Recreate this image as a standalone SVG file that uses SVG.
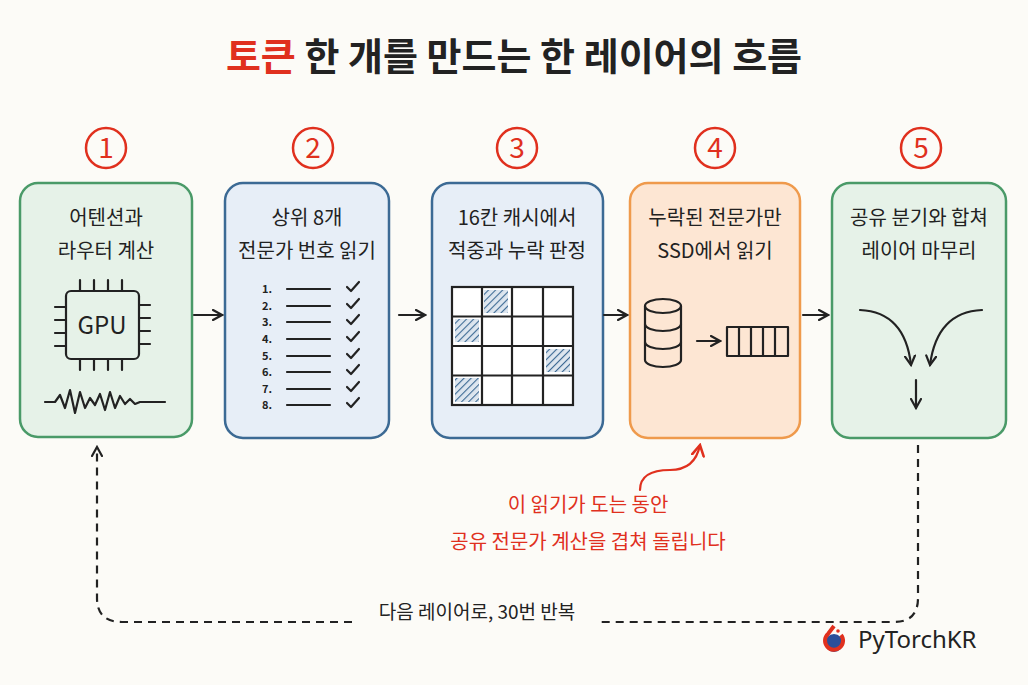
<svg xmlns="http://www.w3.org/2000/svg" width="1028" height="685" viewBox="0 0 1028 685">
<defs>
<style>
.t{font-family:"Noto Sans CJK KR","Noto Sans",sans-serif;fill:#222;text-anchor:middle}
.box{stroke-width:2.5}
.ln{stroke:#222;stroke-width:2.2;fill:none;stroke-linecap:round;stroke-linejoin:round}
.num{fill:none;stroke:#e0301e;stroke-width:2.5}
.nt{font-family:"Noto Sans CJK KR","Noto Sans",sans-serif;fill:#e0301e;font-size:28px;text-anchor:middle}
</style>
<marker id="ah" viewBox="0 0 12 12" refX="10" refY="6" markerWidth="12" markerHeight="12" markerUnits="userSpaceOnUse" orient="auto"><path d="M1,1 L10,6 L1,11" fill="none" stroke="#222" stroke-width="2.2" stroke-linecap="round"/></marker>
<marker id="ahr" viewBox="0 0 12 12" refX="10" refY="6" markerWidth="14" markerHeight="14" markerUnits="userSpaceOnUse" orient="auto"><path d="M1,1 L10,6 L1,11" fill="none" stroke="#e0301e" stroke-width="2.2" stroke-linecap="round"/></marker>
<pattern id="hatch" width="5" height="5" patternUnits="userSpaceOnUse" patternTransform="rotate(45)"><rect width="5" height="5" fill="#dde6ef"/><line x1="0" y1="0" x2="0" y2="5" stroke="#3c6a94" stroke-width="2.2"/></pattern>
</defs>
<rect width="1028" height="685" fill="#fcfbf7"/>
<text x="514" y="70" class="t" font-size="38" font-weight="bold"><tspan fill="#e0301e">토큰</tspan> 한 개를 만드는 한 레이어의 흐름</text>

<g id="n1">
<circle cx="106" cy="148" r="20" class="num"/><text x="106" y="158" class="nt">1</text>
<rect x="20" y="183" width="172" height="254" rx="18" fill="#e6f2e8" stroke="#4a9a68" class="box"/>
<text x="106" y="225" class="t" font-size="20">어텐션과</text>
<text x="106" y="258" class="t" font-size="20">라우터 계산</text>
<rect x="66" y="291" width="73" height="68" rx="5" fill="none" class="ln"/>
<path class="ln" d="M80,280v11M94,280v11M108,280v11M122,280v11M80,359v11M94,359v11M108,359v11M122,359v11M55,307h11M55,320h11M55,333h11M55,346h11M139,305h11M139,318h11M139,331h11M139,344h11"/>
<text x="102" y="334" class="t" font-size="24">GPU</text>
<path class="ln" d="M45,402 L55,402 L60,395 L65,408 L70,390 L75,413 L80,392 L85,408 L90,398 L95,405 L100,394 L105,410 L110,392 L115,408 L120,396 L125,404 L130,399 L135,404 L140,402 L165,402"/>
</g>

<g id="n2">
<circle cx="313" cy="148" r="20" class="num"/><text x="313" y="158" class="nt">2</text>
<rect x="225" y="183" width="164" height="255" rx="18" fill="#e7eef7" stroke="#3c6a94" class="box"/>
<text x="307" y="225" class="t" font-size="20">상위 8개</text>
<text x="307" y="258" class="t" font-size="20">전문가 번호 읽기</text>
<g font-family="Noto Sans CJK KR,sans-serif" font-size="11" fill="#222" font-weight="bold">
<text x="262" y="293">1.</text><text x="262" y="310">2.</text><text x="262" y="326">3.</text><text x="262" y="343">4.</text><text x="262" y="360">5.</text><text x="262" y="376">6.</text><text x="262" y="393">7.</text><text x="262" y="409">8.</text>
</g>
<path class="ln" d="M287,289h43M287,306h43M287,322h43M287,339h43M287,356h43M287,372h43M287,389h43M287,405h43"/>
<path class="ln" d="M347,287l4,4l8,-9M347,304l4,4l8,-9M347,320l4,4l8,-9M347,337l4,4l8,-9M347,354l4,4l8,-9M347,370l4,4l8,-9M347,387l4,4l8,-9M347,403l4,4l8,-9"/>
</g>

<g id="n3">
<circle cx="517" cy="148" r="20" class="num"/><text x="517" y="158" class="nt">3</text>
<rect x="432" y="183" width="171" height="255" rx="18" fill="#e7eef7" stroke="#3c6a94" class="box"/>
<text x="517" y="225" class="t" font-size="20">16칸 캐시에서</text>
<text x="517" y="258" class="t" font-size="20">적중과 누락 판정</text>
<rect x="452" y="287" width="121" height="118" fill="#fff" stroke="#222" stroke-width="2.2"/>
<rect x="484" y="290" width="24" height="23" fill="url(#hatch)"/>
<rect x="455" y="319" width="24" height="23" fill="url(#hatch)"/>
<rect x="546" y="349" width="24" height="23" fill="url(#hatch)"/>
<rect x="455" y="378" width="24" height="24" fill="url(#hatch)"/>
<path stroke="#222" stroke-width="2.2" d="M482,287v118M512,287v118M543,287v118M452,316.5h121M452,346h121M452,375.5h121"/>
</g>

<g id="n4">
<circle cx="715" cy="148" r="20" class="num"/><text x="715" y="158" class="nt">4</text>
<rect x="630" y="183" width="170" height="255" rx="18" fill="#fde6d3" stroke="#ef9a4c" class="box"/>
<text x="715" y="225" class="t" font-size="20">누락된 전문가만</text>
<text x="715" y="258" class="t" font-size="20">SSD에서 읽기</text>
<path class="ln" d="M645,306 v54 a18,7 0 0 0 36,0 v-54"/>
<ellipse cx="663" cy="306" rx="18" ry="7" class="ln"/>
<path class="ln" d="M645,324 a18,7 0 0 0 36,0 M645,342 a18,7 0 0 0 36,0"/>
<line x1="697" y1="341" x2="720" y2="341" class="ln" marker-end="url(#ah)"/>
<rect x="727" y="327" width="61" height="29" class="ln"/>
<path class="ln" d="M739,327v29M751,327v29M763,327v29M775,327v29"/>
</g>

<g id="n5">
<circle cx="921" cy="148" r="20" class="num"/><text x="921" y="158" class="nt">5</text>
<rect x="832" y="183" width="174" height="255" rx="18" fill="#e6f2e8" stroke="#4a9a68" class="box"/>
<text x="919" y="225" class="t" font-size="20">공유 분기와 합쳐</text>
<text x="919" y="258" class="t" font-size="20">레이어 마무리</text>
<path class="ln" d="M860,310 Q905,312 911,365" marker-end="url(#ah)"/>
<path class="ln" d="M982,310 Q937,312 930,365" marker-end="url(#ah)"/>
<line x1="916" y1="380" x2="916" y2="408" class="ln" marker-end="url(#ah)"/>
</g>

<g id="connectors">
<line x1="194" y1="315" x2="222" y2="315" class="ln" marker-end="url(#ah)"/>
<line x1="399" y1="315" x2="425" y2="315" class="ln" marker-end="url(#ah)"/>
<line x1="604" y1="315" x2="627" y2="315" class="ln" marker-end="url(#ah)"/>
<line x1="803" y1="315" x2="828" y2="315" class="ln" marker-end="url(#ah)"/>
<path d="M640,490 Q640,470 670,470 Q695,470 700,445" fill="none" stroke="#e0301e" stroke-width="2.2" stroke-linecap="round" marker-end="url(#ahr)"/>
<path d="M918,445 V598 Q918,622 894,622 H600" fill="none" stroke="#222" stroke-width="2.2" stroke-dasharray="8,6"/>
<path d="M352,622 H122 Q97,622 97,598 V447" fill="none" stroke="#222" stroke-width="2.2" stroke-dasharray="8,6" marker-end="url(#ah)"/>
</g>
<text x="588" y="512" class="t" font-size="20" style="fill:#e0301e">이 읽기가 도는 동안</text>
<text x="588" y="549" class="t" font-size="20" style="fill:#e0301e">공유 전문가 계산을 겹쳐 돌립니다</text>
<text x="477" y="619" class="t" font-size="19">다음 레이어로, 30번 반복</text>

<g id="logo">
<circle cx="834" cy="643" r="9" fill="#2a4f9a"/>
<path d="M834,626 L828,634 A9,9 0 1 0 841,635" fill="none" stroke="#e0301e" stroke-width="4"/>
<circle cx="838" cy="631" r="1.8" fill="#e0301e"/>
<text x="858" y="648" font-family="Noto Sans,sans-serif" font-size="24" fill="#222">PyTorchKR</text>
</g>
</svg>
